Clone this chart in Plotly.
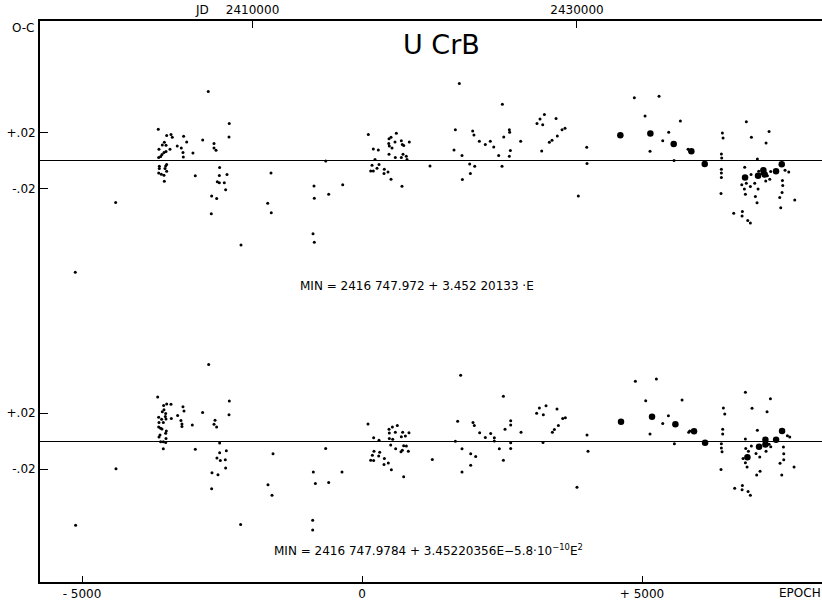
import plotly.graph_objects as go

# Light elements of U CrB: epoch E and O-C residuals (days)
# Upper panel: residuals from the linear ephemeris
E_lin = [-5120, -4399,
         -3638, -3626, -3631, -3595, -3566, -3530, -3500, -3536, -3572, -3500, -3488, -3429, -3411,
         -3388, -3299, -3227, -3185, -3197, -3191, -3131, -3019, -2845, -2745, -2370, -2375, -2643,
         -2643, -2607,
         -3619, -3619, -3631, -3584, -3536, -3530, -3506, -3488, -3488, -3518, -2977, -2542, -2548,
         -2584, -2548, -2411, -2459, -2435, -2685, -2595, -2691,
         -2161, -1625, -1684, -1620, -857, -852, -875, -852, -648, -595, -345,
         113, 202, 291, 232, 179, 155, 202, 268, 304, 398, 393, 464, 518, 714, 482, 518, 613, 589,
         477, 488, 536, 702, 720, 745, 845, 482, 595, 702, 732, 791, 804, 1214,
         1738, 1667, 1643, 1786, 1923, 2013, 1935, 1792, 1976, 1999, 2095, 2202, 2291, 2352, 2441,
         2500, 2506, 2531, 2631, 2637, 2649, 2631, 2834, 3125, 3179, 3256, 3227, 3209, 3345, 3393,
         3465, 3488, 3572, 3625, 4013, 4018, 3863, 4863,
         5304, 5054, 5685, 5477, 5370, 5143, 5572, 5822,
         6435, 6447, 6417, 6423, 6417, 6417, 6417, 6411,
         6863, 6953, 7269, 7215, 7060, 6834, 6947, 6781, 6863, 6828, 6846, 6935, 7013, 7072, 7024,
         7054, 7138, 7084, 7239, 7209, 7281, 7298, 7554, 7620, 7507, 7513, 7501, 7459, 7477, 7727,
         6638, 6792, 6787, 6888, 6935]
OC_lin = [-0.0796, -0.0299,
          0.0223, 0.0080, 0.0021, 0.0028, 0.0111, 0.0130, 0.0109, 0.0057, 0.0043, 0.0064, 0.0178,
          0.0080, 0.0185, 0.0166, 0.0104, 0.0090, 0.0173, 0.0057, 0.0026, 0.0132, 0.0054, 0.0147,
          0.0493, 0.0265, 0.0168, 0.0121, 0.0090, 0.0073,
          -0.0041, -0.0057, -0.0088, -0.0097, -0.0105, -0.0147, -0.0038, -0.0028, -0.0076, -0.0057,
          -0.0109, -0.0050, -0.0107, -0.0152, -0.0159, -0.0100, -0.0159, -0.0209, -0.0252, -0.0270,
          -0.0380,
          -0.0602, -0.0088, -0.0304, -0.0373, -0.0181, -0.0268, -0.0522, -0.0583, -0.0003, -0.0240,
          -0.0173,
          0.0185, 0.0082, 0.0075, 0.0007, -0.0033, -0.0074, -0.0074, -0.0055, -0.0028, -0.0062,
          -0.0092, -0.0081, -0.0133, -0.0183, 0.0156, 0.0166, 0.0194, 0.0132, 0.0121, 0.0104, 0.0090,
          0.0142, 0.0114, 0.0107, 0.0132, 0.0045, 0.0021, 0.0021, 0.0045, 0.0031, 0.0007, -0.0038,
          0.0550, 0.0220, 0.0075, 0.0036, -0.0024, -0.0041, -0.0092, -0.0135, 0.0210, 0.0182, 0.0137,
          0.0114, 0.0137, 0.0097, 0.0036, -0.0041, 0.0402, 0.0168, 0.0220, 0.0201, 0.0071, 0.0031,
          0.0137, 0.0265, 0.0296, 0.0329, 0.0256, 0.0068, 0.0130, 0.0144, 0.0299, 0.0175, 0.0220,
          0.0230, 0.0095, -0.0021, -0.0252, 0.0448,
          0.0459, 0.0317, 0.0282, 0.0201, 0.0142, 0.0066, 0.0000, 0.0080,
          0.0196, 0.0161, 0.0047, 0.0018, -0.0062, -0.0088, -0.0121, -0.0235,
          0.0277, 0.0166, 0.0208, 0.0125, 0.0011, -0.0048, -0.0100, -0.0173, -0.0161, -0.0202,
          -0.0240, -0.0185, -0.0161, -0.0202, -0.0256, -0.0301, -0.0092, -0.0076, -0.0109, -0.0145,
          -0.0133, -0.0078, -0.0069, -0.0081, -0.0142, -0.0178, -0.0228, -0.0263, -0.0337, -0.0282,
          -0.0375, -0.0363, -0.0396, -0.0427, -0.0446]

# photoelectric minima (large dots), linear ephemeris
E_lin_pe = [4613, 5149, 5566, 5881, 6120, 6840, 7072, 7167, 7191, 7393, 7495]
OC_lin_pe = [0.0180, 0.0192, 0.0118, 0.0066, -0.0024, -0.0121, -0.0109, -0.0069, -0.0100,
             -0.0076, -0.0026]

# Lower panel: residuals from the quadratic ephemeris
E_quad = [-5114, -4393, -3649, -3631, -3625, -3631, -3596, -3578, -3566, -3536, -3542, -3506,
          -3488, -3500, -3512, -3548, -3572, -3607, -3625, -3596, -3548, -3506, -3500, -3506,
          -3494, -3548, -3411, -3405, -3292, -3233, -3215, -3215, -3197, -3179, -3030, -2846,
          -2738, -2369, -2375, -2625, -2643, -2596, -2542, -2977, -2542, -2423, -2590, -2530,
          -2441, -2435, -2679, -2572, -2685,
          -2167, -1589, -1679, -1607, -869, -833, -881, -881, -649, -595, -357,
          107, 208, 304, 482, 488, 488, 542, 631, 595, 548, 512, 702, 726, 774, 839, 744, 792, 827,
          696, 720, 601, 214, 316, 185, 155, 208, 298, 399, 470, 393, 524, 744, 1256,
          1762, 1708, 1667, 1786, 1941, 2030, 1941, 1786, 1982, 2006, 2101, 2202, 2298, 2363, 2363,
          2452, 2524, 2524, 2554, 2655, 2655, 2655, 2655, 2840, 3119, 3167, 3286, 3238, 3232, 3399,
          3435, 3482, 3506, 3584, 3631, 4018, 4036, 3839, 4881,
          5257, 5066, 5715, 5471, 5370, 5143, 5578, 5852, 5834,
          6453, 6477, 6441, 6441, 6417, 6417, 6429, 6411,
          6846, 6965, 7293, 7233, 7060, 6846, 6852, 6900, 6953, 6804, 6846, 6876, 7036, 7102, 7108,
          7048, 7215, 7299, 7269, 7596, 7638, 7525, 7531, 7531, 7465, 7495, 7715,
          6655, 6792, 6787, 6894, 6935]
OC_quad = [-0.0600, -0.0197, 0.0314, 0.0170, 0.0132, 0.0101, 0.0091, 0.0156, 0.0209, 0.0223,
           0.0254, 0.0197, 0.0264, 0.0158, 0.0175, 0.0132, 0.0086, 0.0043, 0.0029, -0.0005,
           -0.0005, -0.0010, 0.0019, 0.0055, 0.0072, -0.0055, 0.0262, 0.0161, 0.0182, 0.0146,
           0.0122, 0.0103, 0.0245, 0.0214, 0.0115, 0.0204, 0.0545, 0.0286, 0.0187, 0.0149, 0.0120,
           0.0101, -0.0014, -0.0058, -0.0084, -0.0070, -0.0120, -0.0139, -0.0134, -0.0192, -0.0226,
           -0.0240, -0.0341,
           -0.0595, -0.0091, -0.0312, -0.0386, -0.0221, -0.0302, -0.0564, -0.0634, -0.0053, -0.0295,
           -0.0221,
           0.0122, 0.0024, 0.0005, 0.0084, 0.0058, 0.0019, 0.0101, 0.0110, 0.0062, 0.0012, -0.0029,
           0.0031, 0.0062, 0.0036, 0.0060, -0.0034, -0.0036, -0.0072, -0.0077, -0.0065, -0.0055,
           -0.0072, -0.0079, -0.0101, -0.0137, -0.0139, -0.0106, -0.0125, -0.0156, -0.0168, -0.0204,
           -0.0254, -0.0132,
           0.0470, 0.0142, -0.0002, -0.0055, -0.0091, -0.0110, -0.0173, -0.0221, 0.0132, 0.0110,
           0.0060, 0.0026, 0.0053, 0.0024, 0.0000, -0.0055, -0.0137, 0.0319, 0.0084, 0.0144, 0.0115,
           -0.0012, -0.0053, 0.0062, 0.0199, 0.0235, 0.0252, 0.0187, -0.0010, 0.0062, 0.0082, 0.0228,
           0.0110, 0.0161, 0.0166, 0.0043, -0.0072, -0.0329, 0.0427,
           0.0442, 0.0288, 0.0293, 0.0180, 0.0125, 0.0050, -0.0019, 0.0072, 0.0062,
           0.0235, 0.0192, 0.0084, 0.0050, -0.0019, -0.0050, -0.0077, -0.0202,
           0.0348, 0.0233, 0.0302, 0.0209, 0.0077, 0.0014, -0.0053, -0.0072, -0.0036, -0.0125,
           -0.0154, -0.0185, -0.0089, -0.0113, -0.0216, -0.0242, -0.0072, -0.0041, -0.0022, 0.0038,
           0.0029, -0.0043, -0.0091, -0.0134, -0.0158, -0.0242, -0.0185,
           -0.0336, -0.0317, -0.0348, -0.0360, -0.0386]

E_quad_pe = [4625, 5179, 5596, 5929, 6126, 6882, 7090, 7203, 7203, 7394, 7501]
OC_quad_pe = [0.0137, 0.0173, 0.0120, 0.0070, -0.0012, -0.0115, -0.0041, 0.0010, -0.0024,
              0.0010, 0.0072]

# axis ticks
epoch_ticks = [-5000, 0, 5000]
epoch_labels = ["- 5000", "0", "+ 5000"]
jd_ticks = [2410000, 2430000]
jd_labels = ["2410000", "2430000"]
oc_ticks = [-0.02, 0.02]
oc_labels = ["-.02", "+.02"]

# linear ephemeris used for the JD scale along the top
T0, P = 2416747.972, 3.45220133
E_range = [-5750, 8214]
JD_range = [T0 + P * e for e in E_range]

FONT = "DejaVu Sans"
W, H = 822, 605
ML, MR, MT, MB = 40, 0, 21, 23


def px(x, y):
    """pixel position -> paper coordinates"""
    return (x - ML) / (W - ML - MR), (H - MB - y) / (H - MT - MB)


fig = go.Figure()

small = dict(mode="markers", marker=dict(size=3, color="black"), hoverinfo="skip",
             showlegend=False)
big = dict(mode="markers", marker=dict(size=6.5, color="black"), hoverinfo="skip",
           showlegend=False)

fig.add_trace(go.Scatter(x=E_lin, y=OC_lin, xaxis="x", yaxis="y", **small))
fig.add_trace(go.Scatter(x=E_lin_pe, y=OC_lin_pe, xaxis="x", yaxis="y", **big))
fig.add_trace(go.Scatter(x=E_quad, y=OC_quad, xaxis="x", yaxis="y2", **small))
fig.add_trace(go.Scatter(x=E_quad_pe, y=OC_quad_pe, xaxis="x", yaxis="y2", **big))
# carrier trace for the JD axis
fig.add_trace(go.Scatter(x=JD_range, y=[0, 0], xaxis="x2", yaxis="y", mode="markers",
                         marker=dict(opacity=0), hoverinfo="skip", showlegend=False))

axis_common = dict(showgrid=False, showline=True, linecolor="black", linewidth=1.8,
                   ticks="inside", tickcolor="black", tickwidth=1.4,
                   tickfont=dict(family=FONT, size=12, color="black"))

y_range = [-0.1005, 0.0995]
fig.update_layout(
    width=W, height=H,
    margin=dict(l=ML, r=MR, t=MT, b=MB, pad=0),
    paper_bgcolor="white", plot_bgcolor="white",
    font=dict(family=FONT, color="black"),
    xaxis=dict(range=E_range, anchor="y2", side="bottom", tickvals=epoch_ticks,
               ticktext=epoch_labels, ticklen=6, zeroline=False, **axis_common),
    xaxis2=dict(range=JD_range, overlaying="x", anchor="y", side="top", tickvals=jd_ticks,
                ticktext=jd_labels, ticklen=7, zeroline=False, **axis_common),
    yaxis=dict(domain=[0.5, 1], range=y_range, anchor="x", tickvals=oc_ticks,
               ticktext=oc_labels, ticklen=8, zeroline=True, zerolinecolor="black",
               zerolinewidth=1, **axis_common),
    yaxis2=dict(domain=[0, 0.5], range=y_range, anchor="x", tickvals=oc_ticks,
                ticktext=oc_labels, ticklen=8, zeroline=True, zerolinecolor="black",
                zerolinewidth=1, **axis_common),
)

notes = [
    (441, 44, "U CrB", 27, "center"),
    (417, 286, "MIN = 2416 747.972 + 3.452 20133 \u00b7E", 12, "center"),
    (272, 550, "MIN = 2416 747.9784 + 3.45220356E\u22125.8\u00b710<sup>\u221210</sup>E<sup>2</sup>",
     12, "left"),
    (37, 28, "O-C", 12, "right"),
    (211, 10, "JD", 12, "right"),
    (777, 593, "EPOCH", 12, "left"),
]
for x, y, text, size, anchor in notes:
    ax, ay = px(x, y)
    fig.add_annotation(x=ax, y=ay, xref="paper", yref="paper", text=text, showarrow=False,
                       xanchor=anchor, yanchor="middle",
                       font=dict(family=FONT, size=size, color="black"))

fig.write_html("out.html")
